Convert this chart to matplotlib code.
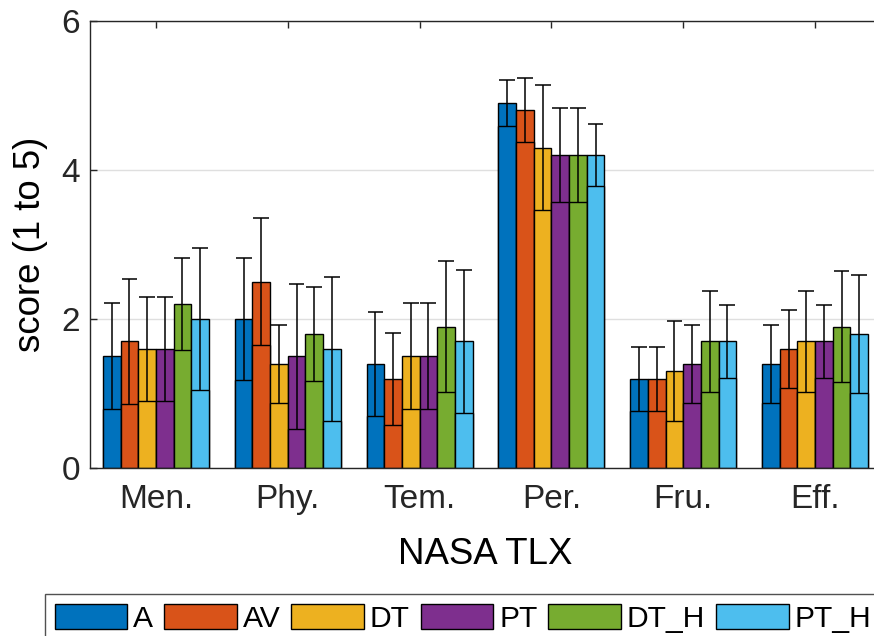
import matplotlib
matplotlib.use("Agg")
import matplotlib.pyplot as plt
from matplotlib.patches import Patch
import numpy as np

categories = ['Men.', 'Phy.', 'Tem.', 'Per.', 'Fru.', 'Eff.']
series = ['A', 'AV', 'DT', 'PT', 'DT_H', 'PT_H']

mean_A    = [1.5, 2.0, 1.4, 4.9, 1.2, 1.4]
mean_AV   = [1.7, 2.5, 1.2, 4.8, 1.2, 1.6]
mean_DT   = [1.6, 1.4, 1.5, 4.3, 1.3, 1.7]
mean_PT   = [1.6, 1.5, 1.5, 4.2, 1.4, 1.7]
mean_DT_H = [2.2, 1.8, 1.9, 4.2, 1.7, 1.9]
mean_PT_H = [2.0, 1.6, 1.7, 4.2, 1.7, 1.8]

std_A    = [0.71, 0.82, 0.70, 0.31, 0.43, 0.52]
std_AV   = [0.84, 0.85, 0.62, 0.43, 0.43, 0.52]
std_DT   = [0.70, 0.52, 0.71, 0.84, 0.67, 0.68]
std_PT   = [0.70, 0.97, 0.71, 0.63, 0.52, 0.49]
std_DT_H = [0.62, 0.63, 0.88, 0.63, 0.68, 0.74]
std_PT_H = [0.95, 0.97, 0.96, 0.42, 0.49, 0.79]

means = [mean_A, mean_AV, mean_DT, mean_PT, mean_DT_H, mean_PT_H]
stds = [std_A, std_AV, std_DT, std_PT, std_DT_H, std_PT_H]
colors = ['#0072BD', '#D95319', '#EDB120', '#7E2F8E', '#77AC30', '#4DBEEE']

plt.rcParams['font.family'] = ['Liberation Sans', 'DejaVu Sans']
axcol = '#262626'

W, H = 874, 636
fig = plt.figure(figsize=(W / 100, H / 100), dpi=100)
ax = fig.add_axes([90 / W, 1 - 468.3 / H, 791 / W, 447.6 / H])

x = np.arange(1, len(categories) + 1)
bw = 0.1338
cap = 0.06
for i, (m, s, c) in enumerate(zip(means, stds, colors)):
    m = np.array(m)
    s = np.array(s)
    xi = x + (i - 2.5) * bw
    ax.bar(xi, m, width=bw, color=c, edgecolor='black', linewidth=1.0, zorder=2)
    ax.bar(xi, m - s, width=bw, color=c, edgecolor='black', linewidth=1.0, zorder=2)
    ax.vlines(xi, m - s, m + s, color='black', linewidth=1.1, zorder=3)
    ax.hlines(m + s, xi - cap, xi + cap, color='black', linewidth=1.1, zorder=3)

ax.set_xlim(0.5, 6.5)
ax.set_ylim(0, 6)
ax.set_yticks([0, 2, 4, 6])
ax.set_xticks(x)
ax.set_xticklabels(categories)
ax.yaxis.grid(True, color='#dfdfdf', linewidth=1.0, zorder=0)
ax.set_axisbelow(True)
for sp in ax.spines.values():
    sp.set_color(axcol)
    sp.set_linewidth(1.0)
ax.tick_params(direction='in', length=5, width=1.0, color=axcol, labelcolor=axcol,
               labelsize=24, top=True, right=True)
ax.tick_params(axis='y', pad=7)
ax.tick_params(axis='x', pad=11)
ax.set_xlabel('NASA TLX', fontsize=26.4, color='black', labelpad=16)
ax.set_ylabel('score (1 to 5)', fontsize=26.4, color='black', labelpad=10)

handles = [Patch(facecolor=c, edgecolor='black', linewidth=1.0) for c in colors]
leg = fig.legend(handles, series, ncol=6, loc='upper left',
                 bbox_to_anchor=(45 / W, 1 - 594 / H), bbox_transform=fig.transFigure,
                 borderaxespad=0, fontsize=21.6, frameon=True, fancybox=False,
                 handlelength=2.42, handleheight=0.95, handletextpad=0.2,
                 columnspacing=0.36, borderpad=0.32)
leg.get_frame().set_edgecolor(axcol)
leg.get_frame().set_linewidth(1.0)
for t in leg.get_texts():
    t.set_color('black')

fig.savefig('out.png', dpi=100)
